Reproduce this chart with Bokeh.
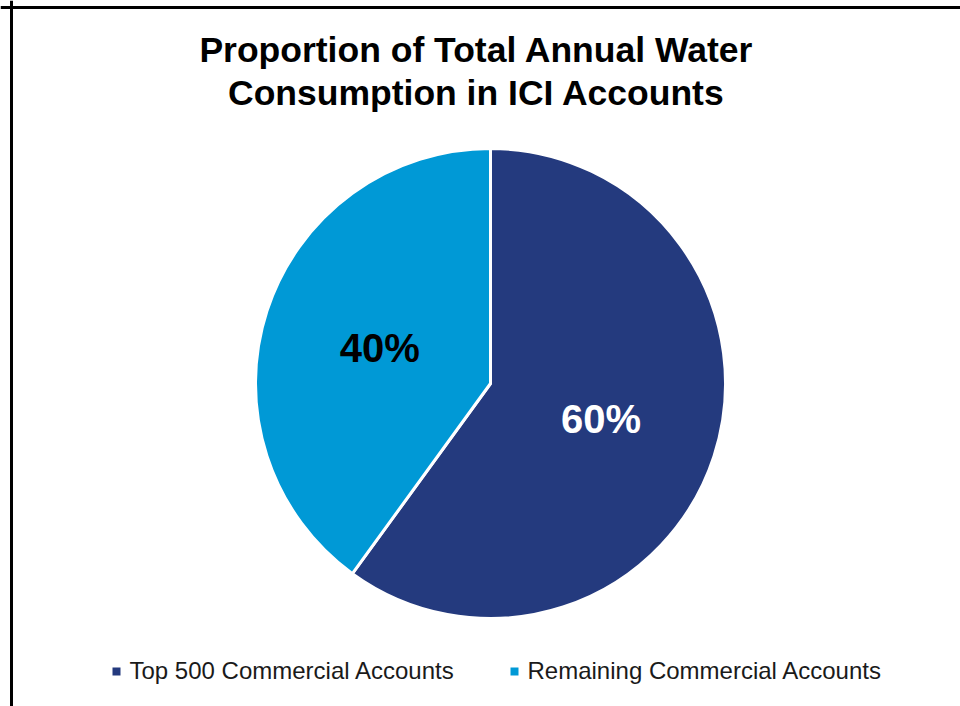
import math
from bokeh.plotting import figure
from bokeh.models import Range1d, Span, ColumnDataSource
from bokeh.core.properties import value
from bokeh.embed import file_html
from bokeh.resources import INLINE

# ---- data ----
categories = ["Top 500 Commercial Accounts", "Remaining Commercial Accounts"]
shares = [60, 40]
colors = ["#243A7E", "#0099D6"]
label_colors = ["white", "black"]
title_lines = ["Proportion of Total Annual Water", "Consumption in ICI Accounts"]

W, H = 960, 706
def py(y):  # pixel y (from top) -> data y
    return H - y

p = figure(width=W, height=H, output_backend="svg", toolbar_location=None,
           x_range=Range1d(0, W), y_range=Range1d(0, H), min_border=0)
p.axis.visible = False
p.grid.visible = False
p.outline_line_color = None
p.background_fill_color = "white"
p.border_fill_color = "white"

# frame lines (slide border)
p.add_layout(Span(location=11, dimension="height", line_color="black", line_width=3))
p.add_layout(Span(location=py(7), dimension="width", line_color="black", line_width=3))

# pie
cx, cy, R = 490, py(383), 235
total = float(sum(shares))
starts, ends, lx, ly, labels = [], [], [], [], []
cum = 0.0
for v in shares:
    a0 = cum / total
    cum += v
    a1 = cum / total
    # clockwise from 12 o'clock
    starts.append(math.pi / 2 - 2 * math.pi * a1)
    ends.append(math.pi / 2 - 2 * math.pi * a0)
    mid = math.pi / 2 - 2 * math.pi * (a0 + a1) / 2
    lx.append(cx + 0.495 * R * math.cos(mid))
    ly.append(cy + 0.495 * R * math.sin(mid))
    labels.append(f"{round(100 * v / total)}%")

src = ColumnDataSource(dict(start=starts, end=ends, color=colors,
                            lx=lx, ly=ly, label=labels, lcolor=label_colors))
p.wedge(x=cx, y=cy, radius=R, start_angle="start", end_angle="end",
        direction="anticlock", fill_color="color", line_color="white",
        line_width=3, source=src)
p.text(x="lx", y="ly", text="label", text_color="lcolor", source=src,
       text_font=value("Liberation Sans"), text_font_style="bold",
       text_font_size="40px", text_align="center", text_baseline="middle")

# title
p.text(x=[476, 476], y=[py(49), py(92)], text=title_lines,
       text_font=value("Liberation Sans"), text_font_style="bold",
       text_font_size="35.5px", text_align="center", text_baseline="middle",
       text_color="black")

# legend
leg_sq_x = [116, 514]
leg_y = py(671)
p.scatter(x=leg_sq_x, y=[leg_y] * 2, marker="square", size=8,
          fill_color=colors, line_color=None)
p.text(x=[x + 13 for x in leg_sq_x], y=[py(670)] * 2, text=categories,
       text_font=value("Liberation Sans"), text_font_size="24px",
       text_align="left", text_baseline="middle", text_color="#1a1a1a")

open("out.html", "w").write(file_html(p, INLINE))
